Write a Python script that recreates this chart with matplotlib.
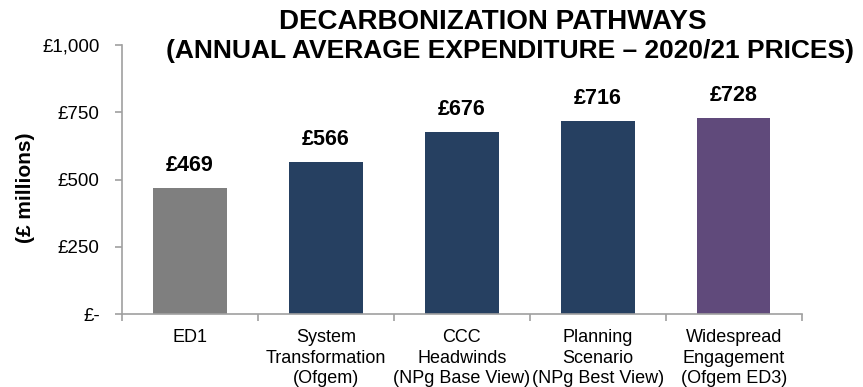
import matplotlib.pyplot as plt
import numpy as np

plt.rcParams['font.family'] = ['Liberation Sans', 'DejaVu Sans']

categories = [
    "ED1",
    "System\nTransformation\n(Ofgem)",
    "CCC\nHeadwinds\n(NPg Base View)",
    "Planning\nScenario\n(NPg Best View)",
    "Widespread\nEngagement\n(Ofgem ED3)",
]
values = [469, 566, 676, 716, 728]
colors = ["#7f7f7f", "#264061", "#264061", "#264061", "#604a7b"]
yticks = [0, 250, 500, 750, 1000]
ytick_labels = ["£-", "£250", "£500", "£750", "£1,000"]

fig = plt.figure(figsize=(8.63, 3.87), dpi=100)
ax = fig.add_axes([0.1414, 0.1886, 0.7876, 0.6951])

x = np.arange(len(categories))
ax.bar(x, values, width=0.54, color=colors, zorder=2)

for xi, v in zip(x, values):
    ax.text(xi, v + 45, f"£{v}", ha="center", va="bottom",
            fontsize=15.5, fontweight="bold")

ax.set_xlim(-0.5, len(categories) - 0.5)
ax.set_ylim(0, 1000)
ax.set_yticks(yticks)
ax.set_yticklabels(ytick_labels, fontsize=13.5)
ax.set_xticks(x)
ax.set_xticklabels(categories, fontsize=13, linespacing=1.25)
ax.set_xticks(np.arange(-0.5, len(categories)), minor=True)
ax.tick_params(axis="x", which="major", length=0, pad=11)
ax.tick_params(axis="x", which="minor", length=5, color="#a0a0a0", width=1.2)
ax.tick_params(axis="y", length=5, color="#a0a0a0", width=1.2, pad=11)

for side in ["top", "right"]:
    ax.spines[side].set_visible(False)
for side in ["left", "bottom"]:
    ax.spines[side].set_color("#a0a0a0")
    ax.spines[side].set_linewidth(1.2)

ax.set_ylabel("(£ millions)", fontsize=15, fontweight="bold")
ax.yaxis.set_label_coords(-0.128, 0.47)

fig.text(0.571, 0.944, "DECARBONIZATION PATHWAYS", ha="center", va="center",
         fontsize=20, fontweight="bold")
fig.text(0.5915, 0.869, "(ANNUAL AVERAGE EXPENDITURE \u2013 2020/21 PRICES)",
         ha="center", va="center", fontsize=19, fontweight="bold")

fig.savefig("out.png", dpi=100)
